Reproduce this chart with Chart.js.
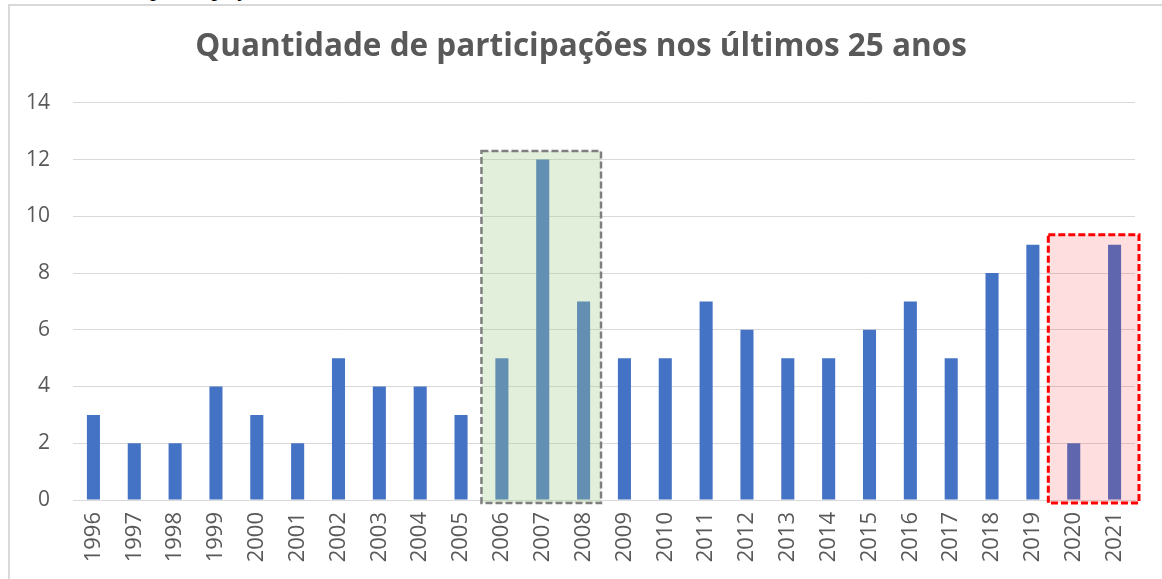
<!DOCTYPE html>
<html lang="pt">
<head>
<meta charset="utf-8">
<script src="https://cdn.jsdelivr.net/npm/chart.js@4.4.1/dist/chart.umd.min.js"></script>
<style>
  html, body { margin: 0; padding: 0; background: #fff; overflow: hidden; }
  #page { position: relative; width: 1162px; height: 579px; overflow: hidden; }
  #caption {
    position: absolute; left: 150px; top: -24px;
    font-family: "Liberation Serif", serif; font-size: 24px; line-height: 24px;
    color: #000; white-space: nowrap;
  }
  #frame {
    position: absolute; left: 8px; top: 4px; width: 1300px; height: 700px;
    border: 2px solid #d9d9d9; box-sizing: border-box; background: #fff;
  }
  #wrap { position: absolute; left: 0; top: 0; width: 1162px; height: 579px; }
</style>
</head>
<body>
<div id="page">
  <div id="caption">participações</div>
  <div id="frame"></div>
  <div id="wrap"><canvas id="grafico"></canvas></div>
</div>
<script>
// dados
const anos = ['1996', '1997', '1998', '1999', '2000', '2001', '2002', '2003', '2004', '2005',
  '2006', '2007', '2008', '2009', '2010', '2011', '2012', '2013', '2014', '2015',
  '2016', '2017', '2018', '2019', '2020', '2021'];
const participacoes = [3, 2, 2, 4, 3, 2, 5, 4, 4, 3, 5, 12, 7, 5, 5, 7, 6, 5, 5, 6, 7, 5, 8, 9, 2, 9];
const yTicks = [0, 2, 4, 6, 8, 10, 12, 14];

// destaques: índice inicial/final da categoria e valor do topo da caixa
const destaqueVerde = { de: 10, ate: 12, topo: 12.3 };
const destaqueVermelho = { de: 24, ate: 25, topo: 9.35 };

const cinzaTexto = '#595959';

const caixas = {
  id: 'caixas',
  afterDatasetsDraw(chart) {
    const { ctx, scales: { x, y } } = chart;
    const desenha = (d, fill, stroke, lw, dash, extraL, extraR) => {
      const l = x.getPixelForValue(d.de - 0.5) - extraL;
      const r = x.getPixelForValue(d.ate + 0.5) + extraR;
      const t = y.getPixelForValue(d.topo);
      const b = y.getPixelForValue(0) + 3;
      ctx.save();
      ctx.fillStyle = fill;
      ctx.fillRect(l, t, r - l, b - t);
      ctx.strokeStyle = stroke;
      ctx.lineWidth = lw;
      ctx.setLineDash(dash);
      ctx.strokeRect(l, t, r - l, b - t);
      ctx.restore();
    };
    desenha(destaqueVerde, 'rgba(164,205,139,0.32)', '#7f7f7f', 2.5, [7, 3], 0, -3);
    desenha(destaqueVermelho, 'rgba(255,35,45,0.15)', '#ff0000', 3, [7, 3], 5, 4);
  }
};

new Chart(document.getElementById('grafico'), {
  type: 'bar',
  data: {
    labels: anos,
    datasets: [{
      data: participacoes,
      backgroundColor: '#4472c4',
      borderWidth: 0,
      barPercentage: 0.32,
      categoryPercentage: 1,
    }],
  },
  options: {
    responsive: true,
    maintainAspectRatio: false,
    animation: false,
    layout: { padding: { left: 27, right: 27, top: 0, bottom: 0 } },
    plugins: {
      legend: { display: false },
      tooltip: { enabled: false },
      title: {
        display: true,
        text: 'Quantidade de participações nos últimos 25 anos',
        color: cinzaTexto,
        font: { family: '"Open Sans", sans-serif', size: 31.5, weight: 'bold' },
        padding: { top: 28, bottom: 37 },
      },
    },
    scales: {
      x: {
        grid: { display: false, drawTicks: false },
        border: { color: '#d9d9d9', width: 1 },
        ticks: {
          color: cinzaTexto,
          font: { family: '"Open Sans", sans-serif', size: 22 },
          maxRotation: 90,
          minRotation: 90,
          padding: 12,
          autoSkip: false,
        },
        afterFit(scale) { scale.height = 79; },
      },
      y: {
        min: 0,
        max: 14,
        afterBuildTicks(scale) { scale.ticks = yTicks.map(v => ({ value: v })); },
        grid: { color: '#d9d9d9', lineWidth: 1, drawTicks: false },
        border: { display: false },
        ticks: {
          color: cinzaTexto,
          font: { family: '"Open Sans", sans-serif', size: 21 },
          padding: 23,
        },
        afterFit(scale) { scale.width = 46; },
      },
    },
  },
  plugins: [caixas],
});
</script>
</body>
</html>
